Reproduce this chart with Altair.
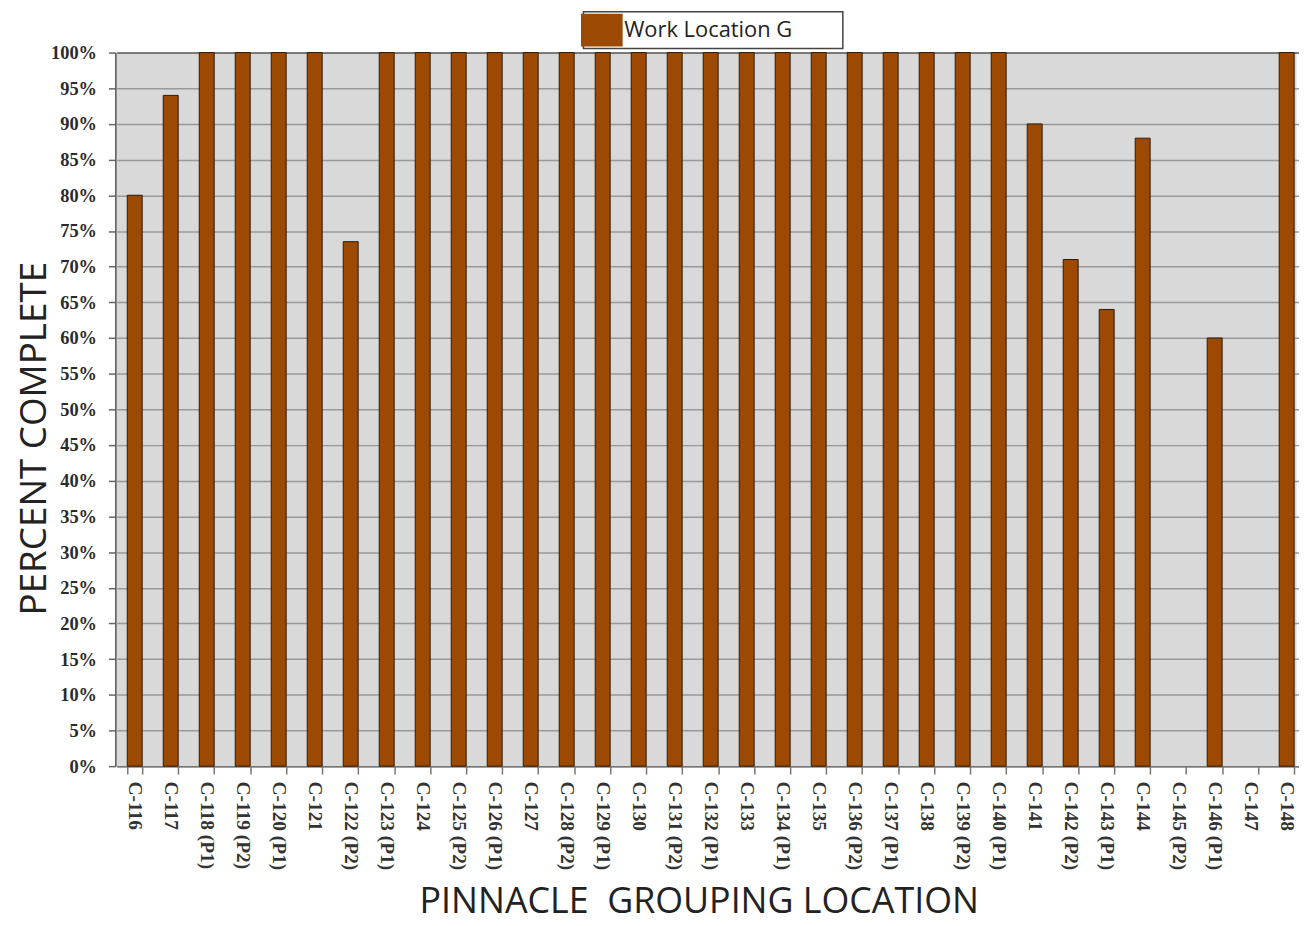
import altair as alt
import pandas as pd

categories = [
    "C-116", "C-117", "C-118 (P1)", "C-119 (P2)", "C-120 (P1)", "C-121",
    "C-122 (P2)", "C-123 (P1)", "C-124", "C-125 (P2)", "C-126 (P1)", "C-127",
    "C-128 (P2)", "C-129 (P1)", "C-130", "C-131 (P2)", "C-132 (P1)", "C-133",
    "C-134 (P1)", "C-135", "C-136 (P2)", "C-137 (P1)", "C-138", "C-139 (P2)",
    "C-140 (P1)", "C-141", "C-142 (P2)", "C-143 (P1)", "C-144", "C-145 (P2)",
    "C-146 (P1)", "C-147", "C-148",
]
values = [
    80, 94, 100, 100, 100, 100,
    73.5, 100, 100, 100, 100, 100,
    100, 100, 100, 100, 100, 100,
    100, 100, 100, 100, 100, 100,
    100, 90, 71, 64, 88, 0,
    60, 0, 100,
]
series_name = "Work Location G"
y_ticks = list(range(0, 101, 5))

df = pd.DataFrame({"loc": categories, "pct": values, "series": series_name})

bars = alt.Chart(df).mark_bar(stroke="#2a1a0c").encode(
    x=alt.X(
        "loc:N",
        sort=categories,
        scale=alt.Scale(domain=categories, range=[1.4, 1196.7], paddingInner=0.585, paddingOuter=0.2925),
        axis=alt.Axis(
            title="PINNACLE\u00a0 GROUPING LOCATION",
            titleFont="Open Sans",
            titleFontSize=36,
            titleFontWeight="normal",
            titleColor="#222222",
            titleX=587,
            titleY=147,
            titleAlign="center",
            titleBaseline="alphabetic",
            labelAngle=90,
            labelFont="Liberation Serif",
            labelFontSize=19.5,
            labelFontWeight="bold",
            labelColor="#333333",
            labelPadding=7,
            labelAlign="left",
            labelBaseline="middle",
            tickBand="extent",
            tickSize=8,
            tickColor="#777777",
            tickWidth=1.5,
            domainColor="#777777",
            domainWidth=1.5,
            grid=False,
        ),
    ),
    y=alt.Y(
        "pct:Q",
        scale=alt.Scale(domain=[0, 100], nice=False),
        axis=alt.Axis(
            values=y_ticks,
            labelExpr="datum.value + '%'",
            title="PERCENT COMPLETE",
            titleFont="Open Sans",
            titleFontSize=37,
            titleFontWeight="normal",
            titleColor="#222222",
            titleX=-70,
            titleY=388,
            titleAngle=270,
            titleAlign="center",
            titleBaseline="alphabetic",
            labelFont="Liberation Serif",
            labelFontSize=18.5,
            labelFontWeight="bold",
            labelColor="#2a2a2a",
            labelPadding=12,
            tickSize=7,
            tickColor="#666666",
            tickWidth=1.5,
            domainColor="#555555",
            domainWidth=1.5,
            grid=True,
            gridColor={"condition": {"test": "datum.value === 100", "value": "#555555"}, "value": "#999999"},
            gridWidth=1.5,
        ),
    ),
    strokeWidth=alt.condition("datum.pct > 0", alt.value(1), alt.value(0)),
    color=alt.Color(
        "series:N",
        scale=alt.Scale(range=["#9C4A03"]),
        legend=alt.Legend(
            title=None,
            orient="none",
            legendX=471,
            legendY=-41,
            direction="vertical",
            symbolType="M-1.27,-1H1.27V1H-1.27Z",
            symbolSize=1089,
            symbolStrokeWidth=0,
            symbolOpacity=1,
            fillColor="#FFFFFF",
            strokeColor="#444444",
            padding=2,
            cornerRadius=0,
            labelFont="Open Sans",
            labelFontSize=22,
            labelColor="#222222",
            labelOffset=6,
            labelLimit=400,
            labelExpr="datum.label + '\u2800\u2800\u2800'",
        ),
    ),
)

chart = bars.properties(
    width=1188,
    height=718,
    autosize=alt.AutoSizeParams(type="none"),
    padding={"left": 108, "top": 42, "right": 3, "bottom": 157},
    background="#FFFFFF",
).configure_view(
    fill="#D9D9D9",
    strokeOpacity=0,
).configure_legend(
    strokeWidth=1.5,
)

chart.save("out.html", embed_options={"renderer": "svg", "actions": False})
